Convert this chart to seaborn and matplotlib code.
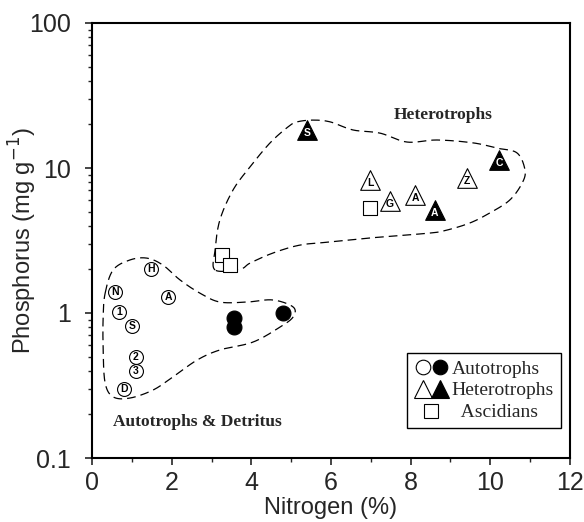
import numpy as np
import pandas as pd
import matplotlib
matplotlib.use("Agg")
import matplotlib.pyplot as plt
import seaborn as sns
from matplotlib.ticker import MultipleLocator, LogLocator, NullFormatter
from matplotlib.lines import Line2D
from matplotlib.legend_handler import HandlerTuple

# ---- data ----
auto_open_N = [0.58, 1.48, 1.91, 0.68, 1.00, 1.10, 1.10, 0.80]
auto_open_P = [1.40, 2.01, 1.29, 1.02, 0.81, 0.50, 0.40, 0.30]
auto_open_lab = ["N", "H", "A", "1", "S", "2", "3", "D"]

auto_fill_N = [3.57, 3.57, 4.80]
auto_fill_P = [0.92, 0.80, 1.00]

het_open_N = [6.98, 7.48, 8.11, 9.41]
het_open_P = [8.3, 5.9, 6.5, 8.5]
het_open_lab = ["L", "G", "A", "Z"]

het_fill_N = [5.40, 8.61, 10.22]
het_fill_P = [18.3, 5.13, 11.4]
het_fill_lab = ["S", "A", "C"]

asc_N = [3.26, 3.46, 6.98]
asc_P = [2.51, 2.14, 5.3]

# outlines of groups (N, P)
het_hull_N = [3.09, 3.09, 3.21, 3.54, 3.97, 4.47, 4.92, 5.15, 5.55, 5.98, 6.55, 7.23,
              7.91, 8.66, 9.57, 10.17, 10.67, 10.87, 10.80, 10.49, 9.99, 9.49, 8.91,
              8.49, 7.23, 5.98, 5.22, 4.54, 3.97, 3.72]
het_hull_P = [1.98, 2.72, 4.38, 7.05, 10.2, 14.9, 19.2, 20.8, 21.4, 20.8, 18.3, 17.4,
              15.1, 15.6, 14.9, 13.7, 12.7, 9.69, 7.88, 6.02, 4.90, 4.18, 3.73,
              3.56, 3.34, 3.09, 2.94, 2.59, 2.21, 2.01]
auto_hull_N = [0.33, 0.53, 0.95, 1.38, 1.78, 2.21, 2.71, 3.21, 3.89, 4.54, 5.05, 5.05,
               4.72, 4.04, 3.21, 2.64, 2.03, 1.53, 0.95, 0.53, 0.33, 0.28, 0.28]
auto_hull_P = [1.37, 1.98, 2.32, 2.39, 2.14, 1.69, 1.37, 1.19, 1.19, 1.23, 1.10, 0.94,
               0.80, 0.63, 0.556, 0.474, 0.362, 0.294, 0.259, 0.264, 0.329, 0.556, 0.94]

x_ticks = [0, 2, 4, 6, 8, 10, 12]
y_ticks = [0.1, 1, 10, 100]
y_tick_labels = ["0.1", "1", "10", "100"]

# ---- style ----
sns.set_style("ticks")
plt.rcParams["font.family"] = ["Liberation Sans", "DejaVu Sans"]
SERIF = ["Liberation Serif", "DejaVu Serif"]

fig = plt.figure(figsize=(5.84, 5.22), dpi=100)
ax = fig.add_axes([92 / 584, 1 - 458 / 522, (570 - 92) / 584, (458 - 23) / 522])


def smooth_closed(xs, ys, n=24):
    pts = np.column_stack([np.asarray(xs, float), np.log10(np.asarray(ys, float))])
    P = len(pts)
    t = np.linspace(0, 1, n, endpoint=False)[:, None]
    segs = []
    for i in range(P):
        p0, p1, p2, p3 = pts[(i - 1) % P], pts[i], pts[(i + 1) % P], pts[(i + 2) % P]
        seg = 0.5 * (2 * p1 + (-p0 + p2) * t + (2 * p0 - 5 * p1 + 4 * p2 - p3) * t ** 2
                     + (-p0 + 3 * p1 - 3 * p2 + p3) * t ** 3)
        segs.append(seg)
    out = np.vstack(segs + [segs[0][:1]])
    return out[:, 0], 10 ** out[:, 1]


for hx, hy in [(het_hull_N, het_hull_P), (auto_hull_N, auto_hull_P)]:
    sx, sy = smooth_closed(hx, hy)
    ax.plot(sx, sy, color="black", lw=0.9, dashes=(7, 4), zorder=1)

# points
sns.scatterplot(x=auto_open_N, y=auto_open_P, marker="o", s=100, color="white",
                edgecolor="black", linewidth=0.8, ax=ax, zorder=3)
sns.scatterplot(x=auto_fill_N, y=auto_fill_P, marker="o", s=115, color="black",
                edgecolor="black", linewidth=0.8, ax=ax, zorder=3)
sns.scatterplot(x=het_open_N, y=het_open_P, marker="^", s=200, color="white",
                edgecolor="black", linewidth=0.8, ax=ax, zorder=3)
sns.scatterplot(x=het_fill_N, y=het_fill_P, marker="^", s=200, color="black",
                edgecolor="black", linewidth=0.8, ax=ax, zorder=3)
sns.scatterplot(x=asc_N, y=asc_P, marker="s", s=115, color="white",
                edgecolor="black", linewidth=0.8, ax=ax, zorder=3)

for xv, yv, lab in zip(auto_open_N, auto_open_P, auto_open_lab):
    ax.text(xv, yv, lab, ha="center", va="center", fontsize=7.5, fontweight="bold",
            color="black", zorder=4)
for xv, yv, lab in zip(het_open_N, het_open_P, het_open_lab):
    ax.annotate(lab, (xv, yv), xytext=(0, -2), textcoords="offset points",
                ha="center", va="center", fontsize=7.5, fontweight="bold", color="black", zorder=4)
for xv, yv, lab in zip(het_fill_N, het_fill_P, het_fill_lab):
    ax.annotate(lab, (xv, yv), xytext=(0, -2), textcoords="offset points",
                ha="center", va="center", fontsize=7.5, fontweight="bold", color="white", zorder=4)

ax.text(8.81, 23.2, "Heterotrophs", ha="center", va="center", fontsize=12.5,
        fontweight="bold", family=SERIF)
ax.text(2.64, 0.177, "Autotrophs & Detritus", ha="center", va="center", fontsize=12.5,
        fontweight="bold", family=SERIF)

# axes
ax.set_yscale("log")
ax.set_xlim(0, 12)
ax.set_ylim(0.1, 100)
ax.set_xticks(x_ticks)
ax.set_xticklabels([str(v) for v in x_ticks])
ax.xaxis.set_minor_locator(MultipleLocator(1))
ax.set_yticks(y_ticks)
ax.set_yticklabels(y_tick_labels)
ax.yaxis.set_minor_locator(LogLocator(base=10, subs=np.arange(2, 10)))
ax.yaxis.set_minor_formatter(NullFormatter())
ax.tick_params(axis="both", which="major", direction="out", length=5, width=1.2,
               labelsize=18)
ax.tick_params(axis="x", which="major", pad=4)
ax.tick_params(axis="y", which="major", pad=10)
ax.tick_params(axis="both", which="minor", direction="out", length=3, width=1.0)
for sp in ax.spines.values():
    sp.set_visible(True)
    sp.set_linewidth(1.5)
    sp.set_color("black")

ax.set_xlabel("Nitrogen (%)", fontsize=17, labelpad=2)
ax.set_ylabel("Phosphorus (mg g$^{-1}$)", fontsize=17)
ax.yaxis.set_label_coords((39 - 92) / 478, 0.5)

# legend
h_ao = Line2D([], [], marker="o", ls="", ms=10.5, mfc="white", mec="black", mew=0.8)
h_af = Line2D([], [], marker="o", ls="", ms=10.5, mfc="black", mec="black", mew=0.8)
h_to = Line2D([], [], marker="^", ls="", ms=13, mfc="white", mec="black", mew=0.8)
h_tf = Line2D([], [], marker="^", ls="", ms=13, mfc="black", mec="black", mew=0.8)
h_sq = Line2D([], [], marker="s", ls="", ms=10.5, mfc="white", mec="black", mew=0.8)
leg = ax.legend([(h_ao, h_af), (h_to, h_tf), h_sq],
                ["Autotrophs", "Heterotrophs", "  Ascidians"],
                handler_map={tuple: HandlerTuple(ndivide=None, pad=0.0)},
                loc="upper left", bbox_to_anchor=(0.659, 0.241), borderaxespad=0,
                prop={"family": SERIF, "size": 14}, frameon=True, fancybox=False,
                edgecolor="black", framealpha=1, handlelength=1.8, handletextpad=0.15,
                labelspacing=0.22, borderpad=0.35)
leg.get_frame().set_linewidth(1.0)

fig.savefig("out.png", dpi=100)
